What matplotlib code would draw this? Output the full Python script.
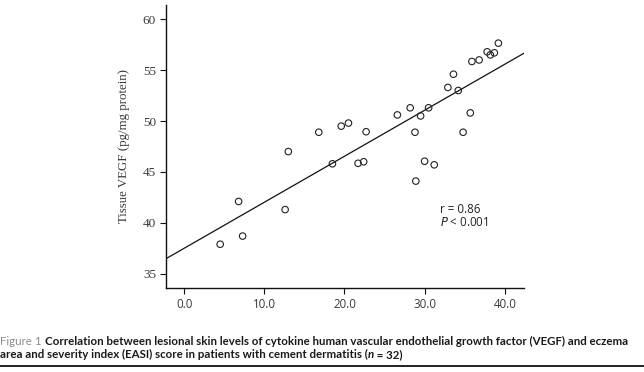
import matplotlib
matplotlib.use("Agg")
import matplotlib.pyplot as plt
from matplotlib import font_manager
import numpy as np

# ---- data ----
easi = [4.5, 6.8, 7.3, 12.6, 13.0, 18.5, 21.7, 22.4, 28.9, 30.0, 31.2,
        16.8, 19.6, 20.5, 22.7, 26.6, 28.2, 28.8, 29.5, 30.5, 32.9, 33.6,
        34.2, 34.8, 35.7, 35.9, 36.8, 37.8, 38.2, 38.7, 39.2]
vegf = [37.9, 42.1, 38.7, 41.3, 47.0, 45.8, 45.85, 46.0, 44.1, 46.05, 45.7,
        48.9, 49.5, 49.8, 48.95, 50.6, 51.3, 48.9, 50.5, 51.3, 53.3, 54.6,
        53.0, 48.9, 50.8, 55.85, 56.0, 56.8, 56.5, 56.7, 57.65]
fit_intercept = 37.5
fit_slope = 0.452
x_ticks = [0, 10, 20, 30, 40]
x_tick_labels = ["0.0", "10.0", "20.0", "30.0", "40.0"]
y_ticks = [35, 40, 45, 50, 55, 60]
y_label = "Tissue VEGF (pg/mg protein)"
stats_lines = ["r = 0.86", "P < 0.001"]
caption_lead = "Figure 1 "
caption_line1 = "Correlation between lesional skin levels of cytokine human vascular endothelial growth factor (VEGF) and eczema"
caption_line2 = ["area and severity index (EASI) score in patients with cement dermatitis (", "n", " = 32)"]

names = {f.name for f in font_manager.fontManager.ttflist}
serif = "Liberation Serif" if "Liberation Serif" in names else "DejaVu Serif"
sans = "Open Sans" if "Open Sans" in names else "DejaVu Sans"
cap_font = "Liberation Sans Narrow" if "Liberation Sans Narrow" in names else ("Lato" if "Lato" in names else "DejaVu Sans")

fig = plt.figure(figsize=(6.44, 3.72), dpi=100)
ax = fig.add_axes([0.2585, 0.2258, 0.5552, 0.7608])
ax.set_xlim(-2.2, 42.4)
ax.set_ylim(33.6, 61.4)

ax.scatter(easi, vegf, s=22, facecolors="none", edgecolors="#222222", linewidths=0.8, zorder=3)
xl = np.array(ax.get_xlim())
ax.plot(xl, fit_intercept + fit_slope * xl, color="#111111", lw=0.9, zorder=2)

for s in ["top", "right"]:
    ax.spines[s].set_visible(False)
for s in ["left", "bottom"]:
    ax.spines[s].set_linewidth(1.0)
    ax.spines[s].set_color("#111111")

ax.set_xticks(x_ticks)
ax.set_xticklabels(x_tick_labels)
ax.set_yticks(y_ticks)
ax.tick_params(axis="both", direction="out", length=4.5, width=0.8, colors="#111111",
               labelsize=9, labelcolor="#3a3a3a", pad=3)
for lab in ax.get_yticklabels():
    lab.set_family(serif)
    lab.set_fontsize(9.5)
for lab in ax.get_xticklabels():
    lab.set_family(sans)
    lab.set_fontsize(8.3)
ax.set_ylabel(y_label, family=serif, fontsize=9.3, color="#3a3a3a", labelpad=9)

ax.text(31.9, 41.3, stats_lines[0], family=sans, fontsize=8.3, color="#222222", va="center")
ax.text(31.9, 40.0, "$\\it{P}$ < 0.001", family=sans, fontsize=8.3, color="#222222", va="center")

# ---- caption ----
fig.canvas.draw()
renderer = fig.canvas.get_renderer()
W = fig.bbox.width

def draw_pieces(pieces, x0, y0, size):
    x = x0
    arts = []
    for txt, kw in pieces:
        t = fig.text(x, y0, txt, family=cap_font, fontsize=size, va="baseline", **kw)
        bb = t.get_window_extent(renderer=renderer)
        x = x + bb.width / W
        arts.append(t)
    return x, arts

bold = dict(weight="bold", color="#1a1a1a")
size = 9.0
end, arts = draw_pieces([(caption_lead, dict(color="#8c8c8c")), (caption_line1, bold)], 0.0, 1 - 345 / 372, size)
for a in arts:
    a.remove()
size = size * (628 / 644) / end
draw_pieces([(caption_lead, dict(color="#8c8c8c")), (caption_line1, bold)], 0.0, 1 - 345 / 372, size)
draw_pieces([(caption_line2[0], bold),
             (caption_line2[1], dict(weight="bold", style="italic", color="#1a1a1a")),
             (caption_line2[2], bold)],
            0.0, 1 - 358 / 372, size)
fig.add_artist(plt.Line2D([0, 1], [1 - 366 / 372] * 2, color="#111111", lw=1.3))

fig.savefig("out.png", dpi=100)
